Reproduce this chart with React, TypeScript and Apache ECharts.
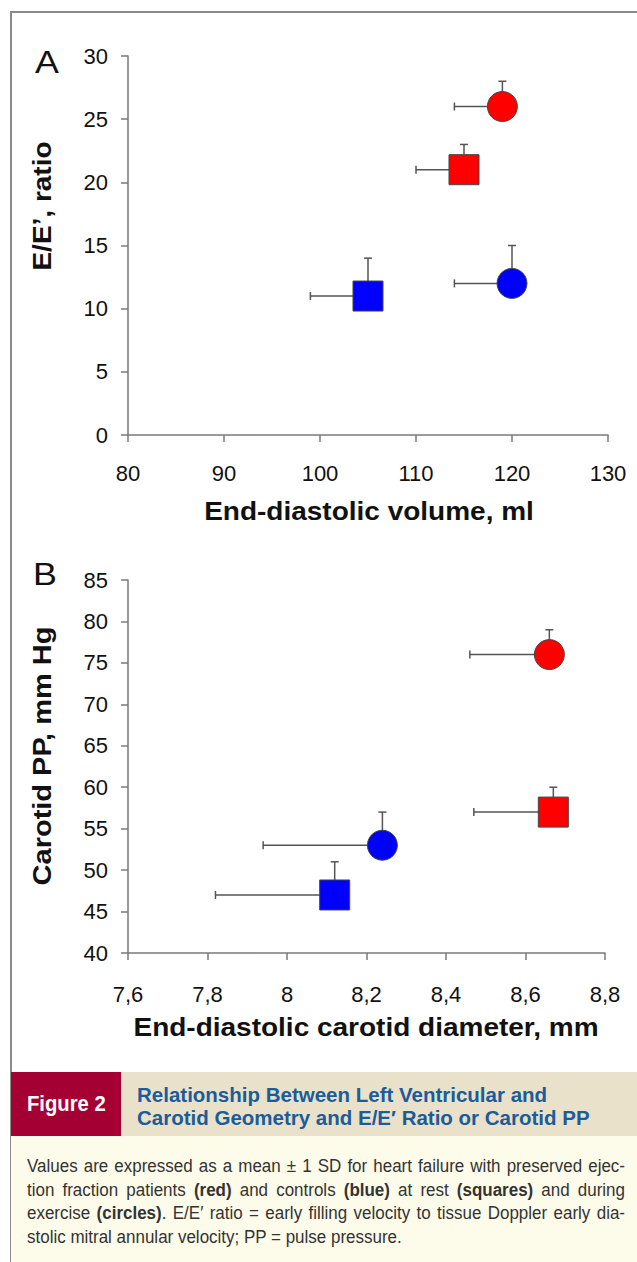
import React, { useEffect, useRef } from "react";
import * as echarts from "echarts";

// Points: HFpEF exercise (red circle), HFpEF rest (red square), control rest (blue square), control exercise (blue circle)
const pointNames = ["HFpEF exercise", "HFpEF rest", "Control rest", "Control exercise"];
const pointColors = ["#ff0000", "#ff0000", "#0000ff", "#0000ff"];
const pointSymbols = ["circle", "rect", "rect", "circle"];

// Panel A
const edvMean = [119, 115, 105, 120];
const edvSD = [5, 5, 6, 6];
const eeMean = [26, 21, 11, 12];
const eeSD = [2, 2, 3, 3];

// Panel B
const diamMean = [8.66, 8.67, 8.12, 8.24];
const diamSD = [0.2, 0.2, 0.3, 0.3];
const ppMean = [76, 57, 47, 53];
const ppSD = [3, 3, 4, 4];

const FONT = "Arial, 'Liberation Sans', Helvetica, sans-serif";

const errStyle = { stroke: "#555555", lineWidth: 1.5 };

function errorRender(params: any, api: any) {
  const x = api.value(0);
  const y = api.value(1);
  const xsd = api.value(2);
  const ysd = api.value(3);
  const c = api.coord([x, y]);
  const l = api.coord([x - xsd, y]);
  const t = api.coord([x, y + ysd]);
  const cap = 4;
  return {
    type: "group",
    children: [
      { type: "line", shape: { x1: c[0], y1: c[1], x2: l[0], y2: l[1] }, style: errStyle },
      { type: "line", shape: { x1: l[0], y1: l[1] - cap, x2: l[0], y2: l[1] + cap }, style: errStyle },
      { type: "line", shape: { x1: c[0], y1: c[1], x2: t[0], y2: t[1] }, style: errStyle },
      { type: "line", shape: { x1: t[0] - cap, y1: t[1], x2: t[0] + cap, y2: t[1] }, style: errStyle },
    ],
  };
}

function axisCommon() {
  return {
    axisLine: { show: true, onZero: false, lineStyle: { color: "#7a7a7a", width: 1.5 } },
    axisTick: { show: true, inside: false, length: 7, lineStyle: { color: "#7a7a7a", width: 1.5 } },
    splitLine: { show: false },
    axisLabel: { color: "#111", fontFamily: FONT, fontSize: 22 },
  };
}

function fmtComma(v: number) {
  const r = Math.round(v * 10) / 10;
  return String(r).replace(".", ",");
}

function titleText(text: string, x: number, y: number, rotate: boolean, scaleX: number) {
  return {
    type: "text",
    x,
    y,
    rotation: rotate ? Math.PI / 2 : 0,
    scaleX,
    style: {
      text,
      font: `bold 25px ${FONT}`,
      fill: "#111",
      align: "center",
      verticalAlign: "middle",
    },
  };
}

function panelLetter(text: string, x: number, y: number) {
  return {
    type: "text",
    x,
    y,
    scaleX: 1.12,
    style: { text, font: `32px ${FONT}`, fill: "#111", align: "center", verticalAlign: "middle" },
  };
}

const BODY_SCALE = 0.97;
const BODY_W = 598;

function BodyLine({ children, last }: { children: React.ReactNode; last?: boolean }) {
  return (
    <div style={{ height: 23.5, lineHeight: "23.5px", width: BODY_W, overflow: "visible" }}>
      <div
        style={{
          width: BODY_W / BODY_SCALE,
          transform: `scaleX(${BODY_SCALE})`,
          transformOrigin: "0 0",
          textAlign: "justify",
          textAlignLast: last ? "left" : "justify",
          whiteSpace: "nowrap",
        }}
      >
        {children}
      </div>
    </div>
  );
}

function TitleLine({ children }: { children: React.ReactNode }) {
  return (
    <div style={{ height: 23, lineHeight: "23px", whiteSpace: "nowrap" }}>{children}</div>
  );
}

export default function App() {
  const ref = useRef<HTMLDivElement>(null);

  useEffect(() => {
    if (!ref.current) return;
    const chart = echarts.init(ref.current, undefined, { renderer: "svg" });
    const mkScatter = (xs: number[], ys: number[]) =>
      xs.map((x, i) => ({
        name: pointNames[i],
        value: [x, ys[i]],
        symbol: pointSymbols[i],
        itemStyle: { color: pointColors[i], borderColor: "#444", borderWidth: 1, opacity: 1 },
      }));
    const mkErr = (xs: number[], ys: number[], xsd: number[], ysd: number[]) =>
      xs.map((x, i) => [x, ys[i], xsd[i], ysd[i]]);

    chart.setOption({
      animation: false,
      grid: [
        { left: 128, top: 56, width: 480, height: 379 },
        { left: 128, top: 580, width: 477, height: 373 },
      ],
      xAxis: [
        { ...axisCommon(), gridIndex: 0, type: "value", min: 80, max: 130, interval: 10,
          axisLabel: { ...axisCommon().axisLabel, margin: 27 } },
        { ...axisCommon(), gridIndex: 1, type: "value", min: 7.6, max: 8.8, interval: 0.2,
          axisLabel: { ...axisCommon().axisLabel, margin: 30, formatter: fmtComma } },
      ],
      yAxis: [
        { ...axisCommon(), gridIndex: 0, type: "value", min: 0, max: 30, interval: 5,
          axisLabel: { ...axisCommon().axisLabel, margin: 20 } },
        { ...axisCommon(), gridIndex: 1, type: "value", min: 40, max: 85, interval: 5,
          axisLabel: { ...axisCommon().axisLabel, margin: 20 } },
      ],
      series: [
        { type: "custom", xAxisIndex: 0, yAxisIndex: 0, renderItem: errorRender,
          data: mkErr(edvMean, eeMean, edvSD, eeSD), encode: { x: 0, y: 1 }, z: 1, clip: false },
        { type: "scatter", xAxisIndex: 0, yAxisIndex: 0, symbolSize: 30, itemStyle: { opacity: 1 },
          data: mkScatter(edvMean, eeMean), z: 2 },
        { type: "custom", xAxisIndex: 1, yAxisIndex: 1, renderItem: errorRender,
          data: mkErr(diamMean, ppMean, diamSD, ppSD), encode: { x: 0, y: 1 }, z: 1, clip: false },
        { type: "scatter", xAxisIndex: 1, yAxisIndex: 1, symbolSize: 30, itemStyle: { opacity: 1 },
          data: mkScatter(diamMean, ppMean), z: 2 },
      ],
      graphic: [
        panelLetter("A", 47, 62),
        panelLetter("B", 45, 574),
        titleText("End-diastolic volume, ml", 369, 512, false, 1.12),
        titleText("E/E’, ratio", 43, 206, true, 1.12),
        titleText("End-diastolic carotid diameter, mm", 366, 1028, false, 1.12),
        titleText("Carotid PP, mm Hg", 42, 756, true, 1.16),
      ],
    });
    return () => chart.dispose();
  }, []);

  return (
    <div style={{ position: "absolute", left: 0, top: 0, width: 637, height: 1262, background: "#fff", overflow: "hidden" }}>
      <div style={{ position: "absolute", left: 10, top: 11, width: 700, height: 1400, borderLeft: "2px solid #8a8a8a", borderTop: "2px solid #8a8a8a" }} />
      <div ref={ref} style={{ position: "absolute", left: 0, top: 0, width: 637, height: 1072 }} />
      <div style={{ position: "absolute", left: 11, top: 1072, width: 110, height: 64, background: "#a50034" }}>
        <div style={{ position: "absolute", left: 16, top: 20, lineHeight: "24px", color: "#fff", fontFamily: FONT, fontWeight: "bold",
          fontSize: 22, whiteSpace: "nowrap", transform: "scaleX(0.92)", transformOrigin: "0 0" }}>
          Figure 2
        </div>
      </div>
      <div style={{ position: "absolute", left: 121, top: 1072, width: 516, height: 64, background: "#e9e1c9", boxSizing: "border-box",
        paddingLeft: 16, paddingTop: 11, color: "#1b5c9a", fontFamily: FONT, fontWeight: "bold", fontSize: 20.5 }}>
        <TitleLine>Relationship Between Left Ventricular and</TitleLine>
        <TitleLine>Carotid Geometry and E/E′ Ratio or Carotid PP</TitleLine>
      </div>
      <div style={{ position: "absolute", left: 11, top: 1136, width: 626, height: 126, background: "#fdfbea", boxSizing: "border-box",
        paddingLeft: 16, paddingTop: 19, color: "#333", fontFamily: FONT, fontSize: 17.5 }}>
        <BodyLine>Values are expressed as a mean ± 1 SD for heart failure with preserved ejec-</BodyLine>
        <BodyLine>tion fraction patients <b>(red)</b> and controls <b>(blue)</b> at rest <b>(squares)</b> and during</BodyLine>
        <BodyLine>exercise <b>(circles)</b>. E/E′ ratio = early filling velocity to tissue Doppler early dia-</BodyLine>
        <BodyLine last>stolic mitral annular velocity; PP = pulse pressure.</BodyLine>
      </div>
    </div>
  );
}
